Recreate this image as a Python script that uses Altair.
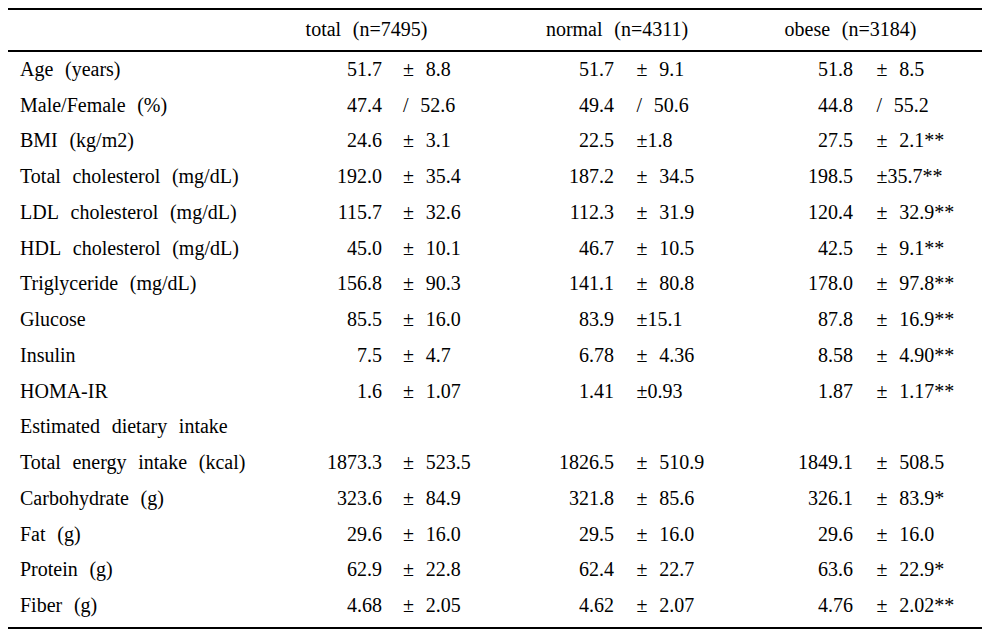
import altair as alt
import pandas as pd

# ---------------- data ----------------
headers = ["total (n=7495)", "normal (n=4311)", "obese (n=3184)"]
groups = ["total", "normal", "obese"]

labels = [
    "Age (years)", "Male/Female (%)", "BMI (kg/m2)", "Total cholesterol (mg/dL)",
    "LDL cholesterol (mg/dL)", "HDL cholesterol (mg/dL)", "Triglyceride (mg/dL)",
    "Glucose", "Insulin", "HOMA-IR", "Estimated dietary intake",
    "Total energy intake (kcal)", "Carbohydrate (g)", "Fat (g)", "Protein (g)", "Fiber (g)",
]

total_mean = ["51.7", "47.4", "24.6", "192.0", "115.7", "45.0", "156.8", "85.5", "7.5", "1.6",
              "", "1873.3", "323.6", "29.6", "62.9", "4.68"]
total_sd = ["± 8.8", "/ 52.6", "± 3.1", "± 35.4", "± 32.6", "± 10.1", "± 90.3", "± 16.0", "± 4.7", "± 1.07",
            "", "± 523.5", "± 84.9", "± 16.0", "± 22.8", "± 2.05"]
normal_mean = ["51.7", "49.4", "22.5", "187.2", "112.3", "46.7", "141.1", "83.9", "6.78", "1.41",
               "", "1826.5", "321.8", "29.5", "62.4", "4.62"]
normal_sd = ["± 9.1", "/ 50.6", "±1.8", "± 34.5", "± 31.9", "± 10.5", "± 80.8", "±15.1", "± 4.36", "±0.93",
             "", "± 510.9", "± 85.6", "± 16.0", "± 22.7", "± 2.07"]
obese_mean = ["51.8", "44.8", "27.5", "198.5", "120.4", "42.5", "178.0", "87.8", "8.58", "1.87",
              "", "1849.1", "326.1", "29.6", "63.6", "4.76"]
obese_sd = ["± 8.5", "/ 55.2", "± 2.1**", "±35.7**", "± 32.9**", "± 9.1**", "± 97.8**", "± 16.9**", "± 4.90**", "± 1.17**",
            "", "± 508.5", "± 83.9*", "± 16.0", "± 22.9*", "± 2.02**"]

# ---------------- layout / style ----------------
FONT = "Liberation Serif"
FS = 20
W, H = 974, 622
SP = "\u2002\u200a"  # wide word gap as in the original typesetting


def wide(s):
    return s.replace(" ", SP)


yscale = alt.Scale(domain=[-0.903, 16.504], range=[0, H], nice=False, zero=False)
col_domain = [0, 1, 2]
mean_scale = alt.Scale(domain=col_domain, range=[374, 606, 845], nice=False, zero=False)
sd_scale = alt.Scale(domain=col_domain, range=[395, 628.5, 868.5], nice=False, zero=False)
head_scale = alt.Scale(domain=col_domain, range=[358.5, 609, 842.5], nice=False, zero=False)

header_row = -0.119
rule_rows = [-0.875, 0.300, 16.448]

# ---------------- frames ----------------
lab_df = pd.DataFrame({"row": list(range(1, len(labels) + 1)), "text": [wide(l) for l in labels]})
head_df = pd.DataFrame({"col": col_domain, "text": [wide(h) for h in headers], "row": [header_row] * 3})

recs = []
for ci, (means, sds) in enumerate([(total_mean, total_sd), (normal_mean, normal_sd),
                                   (obese_mean, obese_sd)]):
    for i, (m, s) in enumerate(zip(means, sds)):
        recs.append({"col": ci, "g": groups[ci], "row": i + 1, "mean": m, "sd": wide(s)})
val_df = pd.DataFrame(recs)
rule_df = pd.DataFrame({"r": rule_rows})

base_text = dict(font=FONT, fontSize=FS, color="#000000", baseline="alphabetic")

labels_layer = alt.Chart(lab_df).mark_text(align="left", **base_text).encode(
    x=alt.value(12),
    y=alt.Y("row:Q", scale=yscale, axis=None),
    text="text:N",
)

head_layer = alt.Chart(head_df).mark_text(align="center", **base_text).encode(
    x=alt.X("col:Q", scale=head_scale, axis=None),
    y=alt.Y("row:Q", scale=yscale, axis=None),
    text="text:N",
)

mean_layer = alt.Chart(val_df).mark_text(align="right", **base_text).encode(
    x=alt.X("col:Q", scale=mean_scale, axis=None),
    y=alt.Y("row:Q", scale=yscale, axis=None),
    text="mean:N",
)

sd_layer = alt.Chart(val_df).mark_text(align="left", **base_text).encode(
    x=alt.X("col:Q", scale=sd_scale, axis=None),
    y=alt.Y("row:Q", scale=yscale, axis=None),
    text="sd:N",
)

rule_layer = alt.Chart(rule_df).mark_rule(color="#000000", strokeWidth=1.8).encode(
    x=alt.value(0),
    x2=alt.value(W),
    y=alt.Y("r:Q", scale=yscale, axis=None),
)

chart = alt.layer(rule_layer, labels_layer, head_layer, mean_layer, sd_layer).resolve_scale(
    x="independent"
).properties(
    width=W, height=H, padding=0, autosize=alt.AutoSizeParams(type="none"), background="white"
).configure_view(stroke=None)

chart.save("out.html", embed_options={"renderer": "svg", "actions": False})
